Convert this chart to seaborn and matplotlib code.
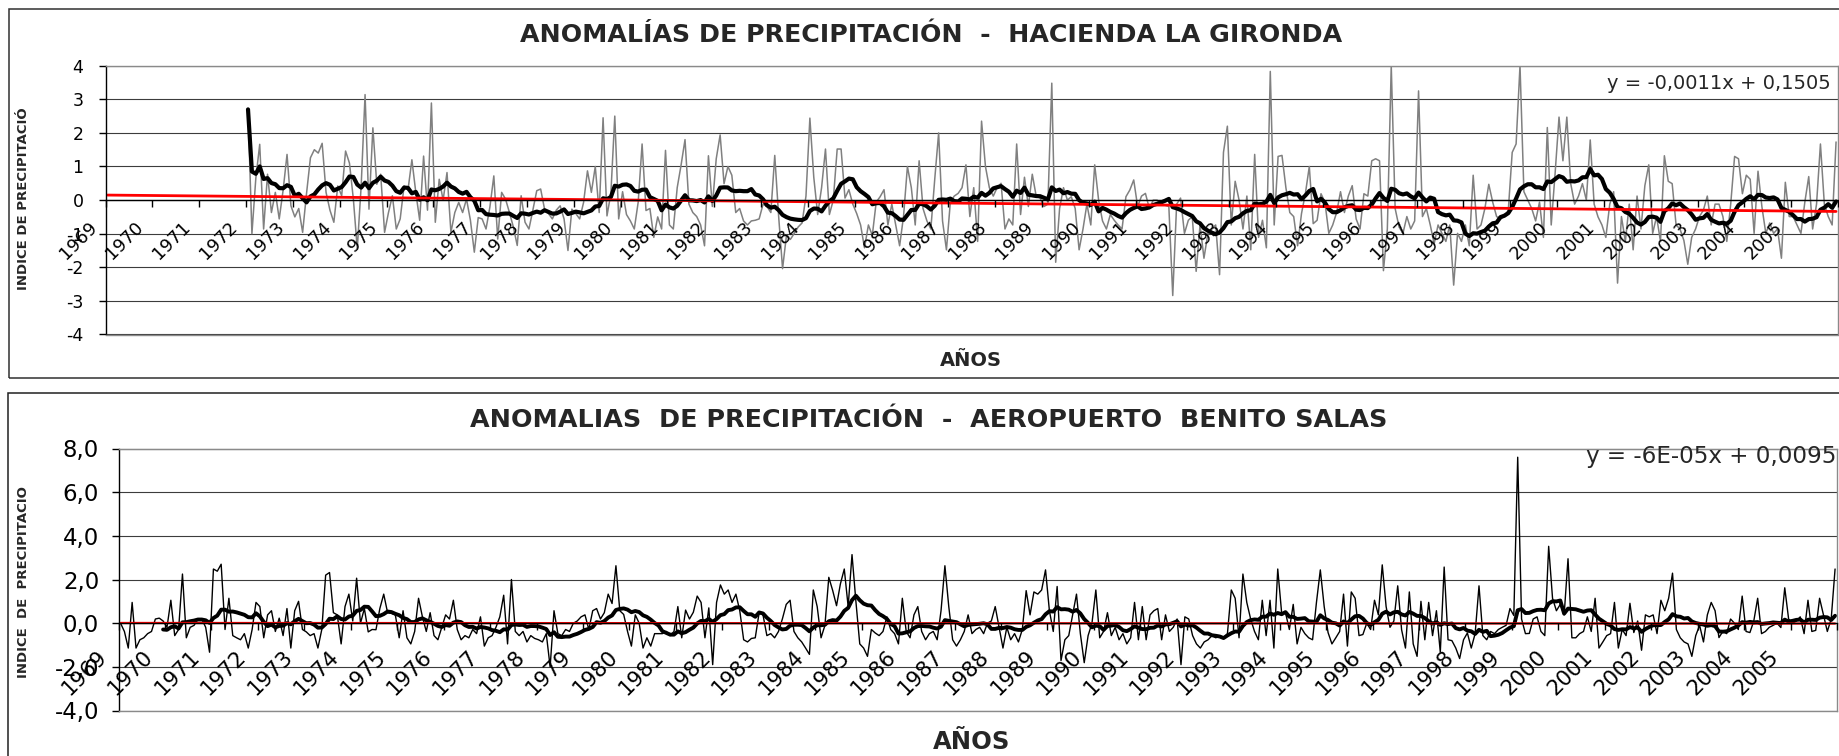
import numpy as np
import pandas as pd
import matplotlib
matplotlib.use("Agg")
import matplotlib.pyplot as plt
import seaborn as sns
from matplotlib.patches import Rectangle
from matplotlib.transforms import offset_copy

# ---------------- data ----------------
YEARS = list(range(1969, 2006))            # category axis, one tick per year
YEAR_LABELS = [str(y) for y in YEARS]

TITLE_TOP = "ANOMALÍAS DE PRECIPITACIÓN  -  HACIENDA LA GIRONDA"
TITLE_BOT = "ANOMALIAS  DE PRECIPITACIÓN  -  AEROPUERTO  BENITO SALAS"
XLABEL = "AÑOS"
YLABEL_TOP = "INDICE DE PRECIPITACIÓ"
YLABEL_BOT = "INDICE  DE  PRECIPITACIO"
EQ_TOP = "y = -0,0011x + 0,1505"
EQ_BOT = "y = -6E-05x + 0,0095"

GIRONDA_TREND = (-0.0011, 0.1505)   # slope, intercept (x = 1..n)
SALAS_TREND = (-6e-05, 0.0095)
MA_WINDOW = 12

TOP_YTICKS = [-4, -3, -2, -1, 0, 1, 2, 3, 4]
TOP_YLABELS = ["-4", "-3", "-2", "-1", "0", "1", "2", "3", "4"]
BOT_YTICKS = [-4, -2, 0, 2, 4, 6, 8]
BOT_YLABELS = ["-4,0", "-2,0", "0,0", "2,0", "4,0", "6,0", "8,0"]

# Hacienda La Gironda: monthly anomaly, record begins at the 1972 category
GIRONDA_FIRST_YEAR = 1972
gironda = [
    2.7, -1.0, 0.65, 1.66, -0.86, 0.77, -0.37, 0.23, -0.56, 0.3, 1.36, -0.17,
    -0.5, -0.25, -0.96, 0.2, 1.26, 1.5, 1.4, 1.69, 0.23, -0.3, -0.66, 0.42,
    0.13, 1.46, 1.1, 0.03, -1.45, 0.42, 3.14, -0.27, 2.15, 0.47, 0.77, -0.96,
    -0.37, 0.13, -0.86, -0.56, 0.42, 0.3, 1.2, 0.23, -0.6, 1.31, -0.3, 2.89,
    -0.66, 0.62, 0.0, 0.82, -0.96, -0.37, -0.07, -0.37, 0.03, -0.6, -1.55, -0.52,
    -0.56, -0.86, -0.2, 0.72, -1.16, 0.23, 0.03, -0.37, -0.8, -1.35, 0.13, -0.66,
    -0.86, -0.3, 0.28, 0.33, -0.27, -0.4, -0.56, -0.3, -0.17, -0.56, -1.5, -0.27,
    -0.4, -0.56, -0.07, 0.87, 0.23, 1.0, -0.37, 2.45, -0.47, 0.2, 2.5, -0.56,
    0.25, -0.43, -0.62, -0.86, -0.06, 1.67, -0.31, -0.25, -1.11, -0.5, -0.86, 1.48,
    -0.74, -0.86, 0.37, 1.05, 1.8, -0.12, -0.37, -0.49, -0.74, -1.36, 1.32, -0.19,
    1.23, 1.94, 0.49, 1.0, 0.74, -0.37, -0.25, -0.62, -0.74, -0.62, -0.6, -0.56,
    -0.12, -0.19, -0.37, 1.33, -0.49, -2.04, -1.05, -1.17, -0.99, -0.8, -0.68, 0.12,
    2.44, 0.68, -0.43, 0.37, 1.52, -0.43, 0.0, 1.52, 1.52, 0.06, 0.31, -0.12,
    -0.4, -0.74, -1.42, -0.74, -1.05, -0.06, 0.1, 0.31, -0.74, -0.12, -0.74, -1.36,
    -0.49, 1.0, 0.37, -0.74, 1.17, -0.25, -0.62, -0.86, 0.62, 2.0, -0.62, -1.48,
    -0.06, 0.12, 0.2, 0.37, 1.05, -0.49, 0.37, -1.23, 2.35, 1.0, 0.37, 0.12,
    0.37, 0.5, -0.86, -0.56, -0.74, 1.67, -0.43, 0.68, -0.19, 0.77, 0.12, 0.06,
    -0.19, -0.12, 3.48, -1.85, -0.25, 0.37, 0.0, 0.1, -0.25, -1.48, -0.86, -0.12,
    -0.74, 1.05, 0.0, -0.62, -0.86, -0.43, -0.6, -0.74, -0.86, 0.1, 0.3, 0.6,
    -0.19, 0.12, 0.2, -0.25, 0.0, 0.0, -0.12, -0.15, -0.19, -2.84, -0.12, 0.06,
    -0.99, -0.6, -0.49, -2.12, -0.74, -1.73, -1.0, -0.86, -0.74, -2.22, 1.42, 2.2,
    -0.74, 0.56, 0.0, -0.86, 0.12, -1.48, 1.36, -1.11, -0.6, -1.42, 3.83, -0.74,
    1.3, 1.33, 0.37, -0.37, -0.49, -1.36, -0.4, 0.2, 1.0, -0.7, -0.6, 0.19,
    -0.06, -0.99, -0.74, -0.37, 0.25, -0.37, 0.12, 0.43, -0.56, -0.86, 0.19, 0.12,
    1.17, 1.23, 1.17, -2.1, -0.86, 4.0, -0.25, -0.8, -0.99, -0.49, -0.86, -0.62,
    3.25, -0.49, -0.25, -0.74, -1.3, -0.74, -0.99, -1.23, -0.74, -2.53, -0.99, -1.23,
    -0.74, -1.36, 0.74, -0.86, -0.74, -0.25, 0.47, -0.06, -0.49, -0.56, -0.49, -0.3,
    1.42, 1.67, 4.0, 0.25, 0.0, -0.25, -0.62, -0.06, -1.11, 2.16, -0.74, 0.8,
    2.47, 1.17, 2.47, 0.49, -0.12, 0.12, 0.49, 0.0, 1.79, -0.12, -0.5, -0.74,
    -1.11, -0.12, 0.25, -2.47, -0.49, -1.23, -0.12, -1.48, 0.12, -0.86, 0.43, 1.05,
    -0.99, -0.49, -1.23, 1.32, 0.56, 0.49, -0.74, -0.86, -1.2, -1.91, -1.11, -0.86,
    -0.49, -0.3, 0.12, -0.74, -0.12, -0.12, -0.49, -1.23, -0.12, 1.3, 1.23, 0.19,
    0.74, 0.62, -0.99, 0.86, -0.2, -0.99, -0.68, -0.99, -0.86, -1.73, 0.53, -0.49,
    -0.49, -0.74, -0.99, -0.06, 0.7, -0.86, -0.12, 1.67, -0.12, -0.49, -0.74, 1.73,
]

# Aeropuerto Benito Salas: monthly anomaly, Jan 1969 - Dec 2005
salas = [
    0.0, -0.38, -1.14, 0.95, -1.14, -0.76, -0.67, -0.48, -0.38, 0.19, 0.23, 0.1,
    -0.19, 1.05, -0.57, -0.29, 2.25, -0.67, -0.19, -0.1, 0.19, 0.19, -0.19, -1.33,
    2.48, 2.38, 2.7, -0.29, 1.14, -0.57, -0.67, -0.76, -0.48, -1.14, -0.29, 0.95,
    0.76, -0.67, 0.38, 0.57, -0.38, 0.23, -0.57, 0.67, -1.14, 0.57, 1.0, -0.29,
    -0.4, -0.57, -0.48, -1.14, -0.29, 2.2, 2.32, 0.48, 0.38, -0.95, 0.76, 1.33,
    0.1, 2.06, 0.0, 0.67, -0.4, -0.29, -0.3, 0.67, 1.33, 0.48, 0.45, 0.38,
    -0.67, 0.57, -0.67, -0.95, -0.38, 1.14, 0.29, -0.38, 0.48, -0.57, -0.76, -0.19,
    0.38, 0.19, 1.05, -0.29, -0.76, -0.57, -0.67, -0.29, -0.48, 0.29, -1.05, -0.67,
    -0.57, -0.19, 0.29, 1.28, -0.95, 2.0, -0.38, -0.57, -0.38, -0.86, -0.57, -0.7,
    -0.76, -0.86, -0.48, -2.0, 0.57, -0.48, -0.57, -0.29, -0.38, 0.0, 0.1, 0.29,
    0.38, -0.29, 0.57, 0.67, 0.19, 0.48, 1.33, 0.9, 2.63, 0.57, 0.4, -0.38,
    -1.05, 0.38, 0.0, -1.14, -0.67, -1.05, -0.48, -0.48, -0.48, -0.38, -0.57, -0.38,
    0.76, -0.67, 0.6, 0.19, 0.5, 1.24, 0.95, -0.67, 0.7, -1.9, 0.95, 1.75,
    1.33, 1.52, 0.95, 1.33, 0.57, -0.76, -0.86, -0.7, -0.67, 0.48, 0.38, -0.57,
    -0.48, -0.67, -0.38, 0.19, 0.86, 1.05, -0.38, -0.67, -0.86, -1.14, -1.43, 1.52,
    0.76, -0.67, -0.1, 2.1, 1.5, 0.8, 1.8, 2.48, 0.76, 3.14, 1.0, -0.95,
    -1.14, -1.52, -0.29, -0.45, -0.57, -0.38, 0.29, -0.29, -0.48, -0.95, 1.14, -0.38,
    -0.67, 0.38, 0.76, -0.38, -0.76, -0.48, -0.38, -0.76, 0.57, 2.63, 0.76, -0.76,
    -1.05, -0.76, -0.38, 0.38, -0.48, -0.29, -0.19, -0.48, 0.0, 0.1, 0.76, -0.19,
    -1.14, -0.19, -0.76, -0.48, -0.86, -0.29, 1.49, 0.38, 1.43, 1.33, 1.52, 2.44,
    0.57, -0.38, 1.68, -1.71, -0.76, -0.57, 0.38, 1.33, -0.48, -1.81, -0.57, 0.0,
    1.52, -0.67, -0.38, 0.48, -0.57, -0.19, -0.76, -0.48, -0.95, -0.67, 0.95, -0.76,
    0.76, -0.76, 0.38, 0.57, 0.67, -0.76, 0.38, -0.38, -0.19, 0.19, -1.9, 0.29,
    0.19, -0.57, -0.95, -1.14, -0.86, -0.76, -0.57, -0.67, -0.57, -0.67, -0.48, 1.52,
    1.14, -0.67, 2.25, 0.95, 0.19, -0.38, -0.76, 1.05, -0.57, 1.05, -1.14, 2.48,
    0.48, 0.48, -0.29, 0.86, -0.95, -0.19, -0.48, -0.67, -0.76, 0.95, 2.44, 0.76,
    -0.43, -0.95, -0.67, -0.38, 1.33, -1.05, 1.43, 1.14, -0.57, -0.52, 0.0, -0.29,
    1.05, 0.38, 2.67, 0.76, -0.19, 0.1, 1.71, -0.3, -1.14, 1.43, -0.95, -1.52,
    1.0, -0.76, 0.95, -0.57, 0.57, -1.33, 2.57, -0.76, -0.8, -1.14, -1.62, -0.76,
    -0.45, -1.14, -0.48, 1.71, -0.57, -0.76, -0.38, -0.48, -0.29, -0.19, -0.1, 0.67,
    0.35, 7.6, 0.19, -0.48, -0.47, 0.19, 0.29, -0.38, -0.57, 3.52, 1.14, 0.57,
    0.86, 0.38, 2.95, -0.67, -0.67, -0.48, -0.38, 0.29, -0.38, 1.14, -1.14, -0.86,
    -0.57, -0.48, 0.95, -1.14, -0.29, -0.57, 0.91, -0.43, 0.1, -1.24, 0.38, 0.29,
    0.38, -0.48, 1.05, 0.57, 1.14, 2.29, -0.29, -0.67, -0.86, -0.95, -1.52, -0.57,
    -0.1, -0.86, 0.38, 0.95, 0.57, -0.66, -0.38, -0.48, 0.19, 0.0, -0.29, 1.24,
    -0.38, -0.43, 0.1, 1.14, -0.48, -0.38, -0.19, -0.1, 0.0, -0.2, 1.62, 0.19,
    0.0, 0.1, 0.29, -0.48, 1.05, -0.38, -0.33, 1.14, 0.38, -0.38, 0.19, 2.48,
]

# ---------------- derived tables ----------------
N = 12 * len(YEARS)
months = np.arange(N)
g0 = 12 * (GIRONDA_FIRST_YEAR - YEARS[0])
df_g = pd.DataFrame({"m": np.arange(g0, g0 + len(gironda)), "v": gironda})
df_g["ma"] = df_g["v"].rolling(MA_WINDOW, min_periods=1).mean()
df_s = pd.DataFrame({"m": np.arange(len(salas)), "v": salas})
df_s["ma"] = df_s["v"].rolling(MA_WINDOW).mean()
df_gt = pd.DataFrame({"m": months, "v": GIRONDA_TREND[0] * (months + 1) + GIRONDA_TREND[1]})
df_st = pd.DataFrame({"m": months, "v": SALAS_TREND[0] * (months + 1) + SALAS_TREND[1]})
tick_pos = [12 * k - 0.5 for k in range(len(YEARS) + 1)]

# ---------------- figure ----------------
sns.set_theme(style="white")
plt.rcParams["font.family"] = ["DejaVu Sans"]
W, H = 1840, 756
fig = plt.figure(figsize=(W / 100, H / 100), dpi=100, facecolor="white")


def fx(px):
    return px / W


def fy(py):
    return 1 - py / H


# chart-area frames
fig.add_artist(Rectangle((fx(8.5), fy(378)), fx(1900) - fx(8.5), (378 - 8.5) / H,
                         transform=fig.transFigure, fill=False, ec="#303030", lw=1.1))
fig.add_artist(Rectangle((fx(8), fy(900)), fx(1900) - fx(8), (900 - 392.5) / H,
                         transform=fig.transFigure, fill=False, ec="#202020", lw=1.1))

ax1 = fig.add_axes([fx(105.6), fy(334.5), (1838 - 105.6) / W, (334.5 - 65.7) / H])
ax2 = fig.add_axes([fx(118.6), fy(710.5), (1837 - 118.6) / W, (710.5 - 448.5) / H])


def style_axes(ax, ylim, yticks, ylabels, yfs, ypad, xfs, xoff):
    ax.set_facecolor("white")
    ax.set_xlim(-0.5, N - 0.5)
    ax.set_ylim(*ylim)
    ax.set_xticks([])
    ax.set_yticks(yticks)
    ax.set_yticklabels(ylabels, fontsize=yfs)
    ax.tick_params(axis="y", direction="out", length=5, width=1, pad=ypad,
                   colors="black", left=True)
    for s in ["top", "right", "bottom"]:
        ax.spines[s].set_color("#8a8a8a")
        ax.spines[s].set_linewidth(1.0)
    ax.spines["left"].set_color("black")
    ax.spines["left"].set_linewidth(1.0)
    ax.yaxis.grid(True, color="#3c3c3c", lw=0.8)
    ax.set_axisbelow(True)
    ax.set_xlabel("")
    ax.set_ylabel("")
    # horizontal category axis crossing at zero
    sec = ax.secondary_xaxis((0 - ylim[0]) / (ylim[1] - ylim[0]))
    sec.set_alignment("bottom")
    sec.set_ticks(tick_pos)
    sec.tick_params(axis="x", direction="out", length=5, width=1, color="black",
                    labelbottom=False, labeltop=False)
    sec.spines["bottom"].set_color("black")
    sec.spines["bottom"].set_linewidth(1.0)
    sec.set_zorder(2.6)
    tr = offset_copy(ax.transData, fig=fig, x=xoff[0], y=xoff[1], units="dots")
    for k, lab in enumerate(YEAR_LABELS):
        ax.text(12 * k - 0.5, 0, lab, transform=tr, rotation=45,
                rotation_mode="anchor", ha="right", va="top", fontsize=xfs,
                color="black", clip_on=False)


# ---- top panel ----
sns.lineplot(data=df_g, x="m", y="v", ax=ax1, color="#808080", linewidth=1.1,
             estimator=None, legend=False, zorder=2)
sns.lineplot(data=df_g, x="m", y="ma", ax=ax1, color="black", linewidth=3.0,
             estimator=None, legend=False, zorder=2.1)
sns.lineplot(data=df_gt, x="m", y="v", ax=ax1, color="#ff0000", linewidth=2.0,
             estimator=None, legend=False, zorder=2.2)
style_axes(ax1, (-4, 4), TOP_YTICKS, TOP_YLABELS, 12.5, 11, 12.8, (-18, -18))

# ---- bottom panel ----
sns.lineplot(data=df_s, x="m", y="v", ax=ax2, color="black", linewidth=1.0,
             estimator=None, legend=False, zorder=2)
sns.lineplot(data=df_s.dropna(subset=["ma"]), x="m", y="ma", ax=ax2, color="black",
             linewidth=2.8, estimator=None, legend=False, zorder=2.1)
sns.lineplot(data=df_st, x="m", y="v", ax=ax2, color="#ff0000", linewidth=1.6,
             estimator=None, legend=False, zorder=2.2)
style_axes(ax2, (-4, 8), BOT_YTICKS, BOT_YLABELS, 16.5, 9, 15.3, (-22, -23))

# ---------------- texts ----------------
fig.text(fx(931), fy(35), TITLE_TOP, ha="center", va="center", fontsize=18.2,
         fontweight="bold")
fig.text(fx(929), fy(420.5), TITLE_BOT, ha="center", va="center", fontsize=18.3,
         fontweight="bold")
fig.text(fx(971), fy(360), XLABEL, ha="center", va="center", fontsize=14,
         fontweight="bold")
fig.text(fx(972), fy(742), XLABEL, ha="center", va="center", fontsize=17.5,
         fontweight="bold")
fig.text(fx(23.5), fy(199), YLABEL_TOP, ha="center", va="center", rotation=90,
         fontsize=9.5, fontweight="bold")
fig.text(fx(23.5), fy(582), YLABEL_BOT, ha="center", va="center", rotation=90,
         fontsize=9.5, fontweight="bold")
fig.text(fx(1831), fy(83.5), EQ_TOP, ha="right", va="center", fontsize=14)
fig.text(fx(1836.5), fy(457), EQ_BOT, ha="right", va="center", fontsize=16.6)

fig.savefig("out.png", dpi=100, facecolor="white")
